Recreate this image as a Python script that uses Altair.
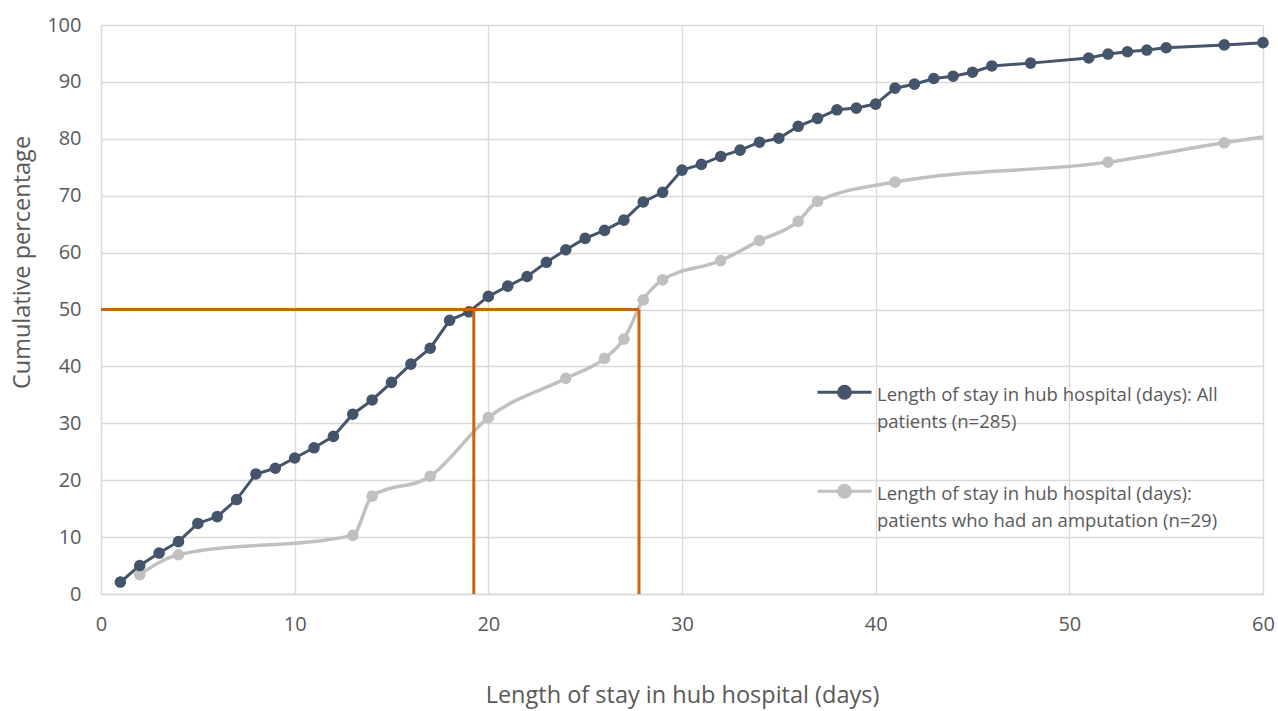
import altair as alt
import pandas as pd

# ---- data ----
days_all = list(range(1, 47)) + [48, 51, 52, 53, 54, 55, 58, 60]
pct_all = [2.1, 5.0, 7.2, 9.2, 12.4, 13.6, 16.6, 21.1, 22.1, 23.9,
           25.7, 27.7, 31.6, 34.1, 37.2, 40.4, 43.2, 48.1, 49.6, 52.3,
           54.1, 55.8, 58.3, 60.5, 62.5, 63.9, 65.7, 68.9, 70.6, 74.5,
           75.5, 76.9, 78.0, 79.4, 80.1, 82.2, 83.6, 85.1, 85.4, 86.1,
           88.9, 89.6, 90.6, 91.0, 91.7, 92.8, 93.3, 94.2, 94.9, 95.3,
           95.6, 96.0, 96.5, 96.9]

days_amp = [2, 4, 13, 14, 17, 20, 24, 26, 27, 28, 29, 32, 34, 36, 37, 41, 52, 58, 60]
pct_amp = [3.4, 6.9, 10.3, 17.2, 20.7, 31.0, 37.9, 41.4, 44.8, 51.7,
           55.2, 58.6, 62.1, 65.5, 69.0, 72.4, 75.9, 79.3, 80.3]
marker_amp = [True] * 18 + [False]

series_names = ["All patients (n=285)", "Patients who had an amputation (n=29)"]
legend_lines = [
    ["Length of stay in hub hospital (days): All", "patients (n=285)"],
    ["Length of stay in hub hospital (days):", "patients who had an amputation (n=29)"],
]
series_colors = ["#44546A", "#C0C0C0"]

# median reference lines (50 %)
median_all = 19.25
median_amp = 27.78
ref_x = [0, median_all, median_amp]
ref_x2 = [median_amp, median_all, median_amp]
ref_y = [50, 0, 0]
ref_y2 = [50, 50, 50]

x_title = "Length of stay in hub hospital (days)"
y_title = "Cumulative percentage"

# ---- tables ----
df_all = pd.DataFrame({"day": days_all, "pct": pct_all,
                       "series": series_names[0], "marker": True})
df_amp = pd.DataFrame({"day": days_amp, "pct": pct_amp,
                       "series": series_names[1], "marker": marker_amp})
df = pd.concat([df_amp, df_all], ignore_index=True)
df_ref = pd.DataFrame({"x": ref_x, "x2": ref_x2, "y": ref_y, "y2": ref_y2})

FONT = "Open Sans"
TXT = "#595959"

label_expr = (f"datum.label == '{series_names[0]}' ? {legend_lines[0]} : {legend_lines[1]}")

sym_path = ("M-1,-0.085L1,-0.085"
            "M0.22,-0.085A0.22,0.22,0,1,1,-0.22,-0.085A0.22,0.22,0,1,1,0.22,-0.085Z")

color = alt.Color(
    "series:N",
    scale=alt.Scale(domain=series_names, range=series_colors),
    legend=alt.Legend(
        orient="none", legendX=715, legendY=341, title=None,
        symbolType=sym_path, symbolSize=2916, symbolStrokeWidth=3,
        labelFont=FONT, labelFontSize=18.5, labelColor=TXT,
        labelExpr=label_expr, labelLimit=600, labelOffset=4,
        labelBaseline="middle", rowPadding=34, symbolOpacity=1,
    ),
)

xenc = alt.X("day:Q", scale=alt.Scale(domain=[0, 60], nice=False),
             axis=alt.Axis(values=[0, 10, 20, 30, 40, 50, 60], title=x_title,
                           titlePadding=49, labelPadding=20, labelFlush=False))
yenc = alt.Y("pct:Q", scale=alt.Scale(domain=[0, 100], nice=False),
             axis=alt.Axis(values=list(range(0, 101, 10)), title=y_title,
                           titlePadding=12, labelPadding=20, titleY=237))

base = alt.Chart(df).encode(x=xenc, y=yenc, color=color)

line_amp = base.transform_filter(alt.datum.series == series_names[1]).mark_line(
    strokeWidth=3.5, interpolate="monotone")
line_all = base.transform_filter(alt.datum.series == series_names[0]).mark_line(
    strokeWidth=3)
pts = base.transform_filter(alt.datum.marker).mark_point(
    filled=True, size=135, opacity=1, shape="circle")

refs = alt.Chart(df_ref).mark_rule(color="#C9650C", strokeWidth=3).encode(
    x="x:Q", x2="x2:Q", y="y:Q", y2="y2:Q")

chart = alt.layer(line_amp, line_all, pts, refs).properties(
    width=1162, height=569,
    autosize=alt.AutoSizeParams(type="none"),
    padding={"left": 101, "top": 25, "right": 15, "bottom": 117},
    background="white",
).configure(
    view=alt.ViewConfig(stroke=None),
    axis=alt.AxisConfig(
        labelFont=FONT, titleFont=FONT, labelFontSize=20, titleFontSize=23.5,
        labelColor=TXT, titleColor=TXT, titleFontWeight="normal",
        grid=True, gridColor="#D9D9D9", gridWidth=1.3,
        domainColor="#D9D9D9", domainWidth=1.3, ticks=False,
    ),
    style={"guide-label": {"lineHeight": 27}},
)

chart.save("out.html", embed_options={"renderer": "svg", "actions": False})
